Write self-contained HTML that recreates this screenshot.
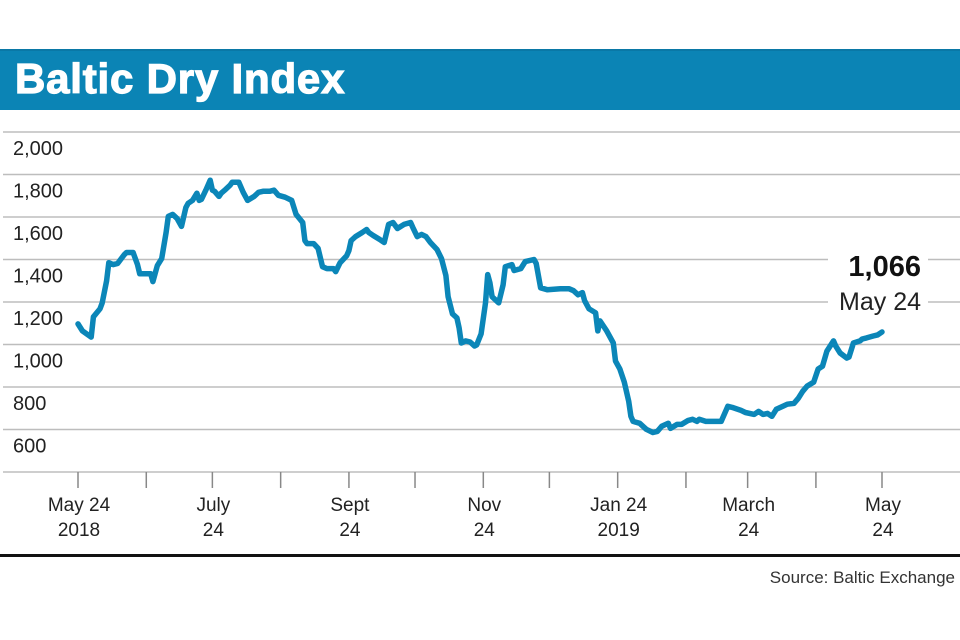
<!DOCTYPE html>
<html><head><meta charset="utf-8"><style>
html,body{margin:0;padding:0;background:#fff;}
body{width:960px;height:640px;overflow:hidden;position:relative;font-family:"Liberation Sans",sans-serif;}
.bar{position:absolute;left:0;top:49px;width:960px;height:61px;background:#0b84b5;border-top:2px solid #0a78a6;box-sizing:border-box;}
.bar h1{margin:0;position:absolute;left:15px;top:4px;color:#fff;font-size:42px;font-weight:bold;letter-spacing:0.8px;-webkit-text-stroke:1.2px #fff;}
</style></head><body>
<div class="bar"><h1>Baltic Dry Index</h1></div>
<svg id="chart" width="960" height="640" style="position:absolute;left:0;top:0"></svg>
<script>
const days=[0,2,6,7,10,11,13,14,16,18,21,22,25,27,28,31,33,34,36,38,40,41,43,45,47,49,50,52,54,55,56,58,59,60,61,62,64,65,67,69,70,73,75,77,80,82,84,87,89,91,94,97,99,102,103,104,107,109,111,113,116,117,119,122,123,124,126,129,131,132,134,137,139,141,143,145,148,151,152,154,156,158,160,163,165,167,168,170,172,173,174,176,178,180,181,183,185,186,187,188,191,193,194,197,198,201,203,207,208,210,213,219,223,225,227,229,230,232,235,236,237,240,243,244,246,248,250,251,252,255,258,261,263,265,268,269,272,274,277,279,281,282,285,288,292,295,297,301,303,307,309,311,313,315,317,320,322,325,327,329,331,334,336,338,340,343,344,346,349,350,352,355,356,358,361,363,365];
const values=[1097,1064,1035,1130,1168,1196,1300,1385,1376,1381,1423,1433,1433,1376,1333,1333,1333,1296,1371,1404,1527,1603,1612,1593,1556,1645,1664,1678,1712,1678,1683,1726,1749,1773,1726,1721,1697,1712,1730,1749,1764,1764,1716,1678,1697,1716,1721,1721,1726,1702,1693,1678,1612,1574,1489,1475,1475,1452,1366,1357,1357,1343,1385,1418,1442,1489,1508,1527,1541,1527,1513,1494,1480,1565,1574,1546,1565,1574,1551,1508,1518,1508,1480,1447,1404,1324,1225,1144,1125,1078,1007,1017,1012,993,998,1050,1196,1329,1291,1225,1196,1281,1366,1376,1348,1357,1390,1400,1381,1267,1258,1262,1262,1253,1234,1244,1206,1168,1149,1064,1111,1064,1007,922,884,823,733,662,638,629,601,586,591,615,629,605,624,624,643,648,638,648,638,638,638,709,704,690,680,671,685,671,676,662,695,709,719,723,747,780,804,823,884,898,969,1017,993,960,936,941,1007,1017,1026,1031,1040,1045,1059,1066];
const yTicks=[2000,1800,1600,1400,1200,1000,800,600];
const yTickLabels=["2,000","1,800","1,600","1,400","1,200","1,000","800","600"];
const xTickDays=[0,31,61,92,123,153,184,214,245,276,304,335,365];
const xLabelDays=[0,61,123,184,245,304,365];
const xLabelLine1=["May 24","July","Sept","Nov","Jan 24","March","May"];
const xLabelLine2=["2018","24","24","24","2019","24","24"];
const lastValue="1,066", lastDate="May 24";

const svg=document.getElementById('chart');
const NS="http://www.w3.org/2000/svg";
const X0=78,X1=882,D0=0,D1=365;
const Y0=132,Y1=472,V0=2000,V1=400;
const x=d=>X0+(d-D0)/(D1-D0)*(X1-X0);
const y=v=>Y0+(V0-v)/(V0-V1)*(Y1-Y0);
function mk(tag,attrs){const e=document.createElementNS(NS,tag);for(const k in attrs)e.setAttribute(k,attrs[k]);svg.appendChild(e);return e;}

yTicks.forEach((v,i)=>{
  const g=mk('line',{x1:3,x2:960,y1:y(v),y2:y(v),stroke:'#bdbdbd','stroke-width':1.5});
  
  
  const t=mk('text',{x:13,y:y(v)+23,'font-size':20,fill:'#222','font-family':'Liberation Sans, sans-serif'});
  t.textContent=yTickLabels[i];
  
  
});
const ax=mk('line',{x1:3,x2:960,y1:Y1,y2:Y1,stroke:'#bdbdbd','stroke-width':1.5});


xTickDays.forEach(d=>{
  const t=mk('line',{x1:x(d),x2:x(d),y1:Y1,y2:Y1+16,stroke:'#888','stroke-width':1.5});
  
  
});
xLabelDays.forEach((d,i)=>{
  const t=mk('text',{x:x(d)+1,y:511,'font-size':19,fill:'#222','text-anchor':'middle','font-family':'Liberation Sans, sans-serif'});
  t.textContent=xLabelLine1[i];
  
  
  const t2=mk('text',{x:x(d)+1,y:536,'font-size':19,fill:'#222','text-anchor':'middle','font-family':'Liberation Sans, sans-serif'});
  t2.textContent=xLabelLine2[i];
  
  
});
const bg=mk('rect',{x:828,y:245,width:100,height:72,fill:'#fff'});


const a1=mk('text',{x:921,y:276,'font-size':29,'font-weight':'bold',fill:'#111','text-anchor':'end','font-family':'Liberation Sans, sans-serif'});
a1.textContent=lastValue;


const a2=mk('text',{x:921,y:310,'font-size':25,fill:'#222','text-anchor':'end','font-family':'Liberation Sans, sans-serif'});
a2.textContent=lastDate;



const pts=days.map((d,i)=>x(d).toFixed(1)+','+y(values[i]).toFixed(1)).join(' ');
const line=mk('polyline',{points:pts,fill:'none',stroke:'#0b86b8','stroke-width':5.5,'stroke-linejoin':'round','stroke-linecap':'round'});



const bl=mk('rect',{x:0,y:554,width:960,height:3,fill:'#111'});


const src=mk('text',{x:955,y:583,'font-size':17,fill:'#333','text-anchor':'end','font-family':'Liberation Sans, sans-serif'});
src.textContent='Source: Baltic Exchange';


</script>
</body></html>
